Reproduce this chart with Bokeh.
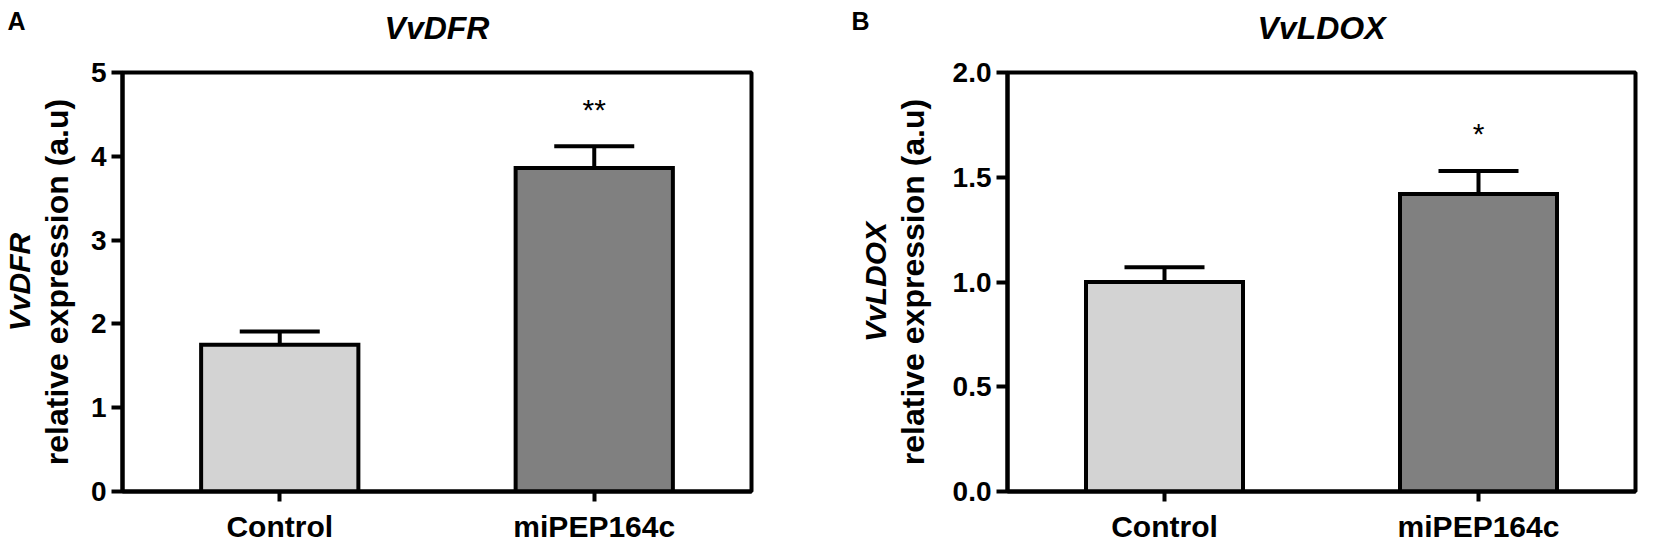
from bokeh.plotting import figure
from bokeh.models import (FactorRange, Range1d, FixedTicker, Label, Whisker, Title,
                          ColumnDataSource, TeeHead, NumeralTickFormatter, BasicTickFormatter)
from bokeh.layouts import row
from bokeh.core.properties import value
from bokeh.embed import file_html
from bokeh.resources import INLINE

# ---------------- data ----------------
categories = ["Control", "miPEP164c"]
bar_colors = ["#d3d3d3", "#808080"]

dfr_mean = [1.75, 3.86]
dfr_upper = [1.91, 4.12]
dfr_sig = ["", "**"]
dfr_sig_y = [1.91, 4.56]
dfr_ticks = [0, 1, 2, 3, 4, 5]

ldox_mean = [1.00, 1.42]
ldox_upper = [1.07, 1.53]
ldox_sig = ["", "*"]
ldox_sig_y = [1.07, 1.71]
ldox_ticks = [0.0, 0.5, 1.0, 1.5, 2.0]

FONT = "Liberation Sans"
H = 545
TOP = 72
BOTTOM = 52


def make_panel(letter, gene, means, uppers, sig, sig_y, ticks, ymax, fmt,
               width, border_left, border_right, ylab_standoff, gene_font,
               gene_standoff, letter_x):
    # chart title (the plot title is placed outermost in the top panel)
    main_title = Title(text=gene, align="center", vertical_align="bottom",
                       standoff=0, text_font=FONT, text_font_size="32px",
                       text_font_style="bold italic", text_color="black")
    p = figure(x_range=FactorRange(*categories, range_padding=0),
               y_range=Range1d(0, ymax), title=main_title,
               width=width, height=H,
               min_border_left=border_left, min_border_right=border_right,
               min_border_top=TOP, min_border_bottom=BOTTOM,
               output_backend="svg", toolbar_location=None,
               background_fill_color="white", border_fill_color="white")
    # blank spacer between the frame and the title
    p.add_layout(Title(text=" ", text_font_size="16px", standoff=8), "above")

    src = ColumnDataSource(dict(cat=categories, mean=means, upper=uppers,
                                color=bar_colors, sig=sig, sig_y=sig_y))
    p.vbar(x="cat", top="mean", width=0.5, source=src, fill_color="color",
           line_color="black", line_width=4, line_join="miter")
    wh = Whisker(base="cat", lower="mean", upper="upper", source=src,
                 line_color="black", line_width=4,
                 upper_head=TeeHead(size=80, line_color="black", line_width=4),
                 lower_head=None, level="glyph")
    p.add_layout(wh)
    p.text(x="cat", y="sig_y", text="sig", source=src, text_align="center",
           text_baseline="alphabetic", text_font=value(FONT),
           text_font_size="30px", text_color="black")

    p.grid.visible = False
    p.outline_line_color = "black"
    p.outline_line_width = 4
    p.outline_line_alpha = 1

    for ax in (p.xaxis[0], p.yaxis[0]):
        ax.axis_line_width = 4
        ax.axis_line_color = "black"
        ax.major_tick_line_width = 4
        ax.major_tick_line_color = "black"
        ax.major_tick_in = 0
        ax.minor_tick_line_color = None
        ax.major_label_text_font = FONT
        ax.major_label_text_font_style = "bold"
        ax.major_label_text_color = "black"

    p.xaxis.major_tick_out = 10
    p.xaxis.major_label_standoff = 8
    p.xaxis.major_label_text_font_size = "30px"

    p.yaxis.ticker = FixedTicker(ticks=ticks)
    p.yaxis.formatter = fmt
    p.yaxis.major_tick_out = 11
    p.yaxis.major_label_standoff = 5
    p.yaxis.major_label_text_font_size = "28px"
    p.yaxis.axis_label = "relative expression (a.u)"
    p.yaxis.axis_label_text_font = FONT
    p.yaxis.axis_label_text_font_style = "bold"
    p.yaxis.axis_label_text_font_size = "32px"
    p.yaxis.axis_label_text_color = "black"
    p.yaxis.axis_label_standoff = ylab_standoff

    # gene name line of the y label (italic), left of the axis label
    p.add_layout(Title(text=gene, align="center", vertical_align="bottom",
                       standoff=gene_standoff, text_font=FONT,
                       text_font_size=gene_font, text_font_style="bold italic",
                       text_color="black"), "left")
    # panel letter
    fh = H - TOP - BOTTOM
    p.add_layout(Label(x=letter_x, y=fh - 22 + TOP, x_units="screen", y_units="screen",
                       text=letter, text_font=FONT, text_font_size="25px",
                       text_font_style="bold", text_align="center",
                       text_baseline="middle", text_color="black"), "right")
    return p


p1 = make_panel("A", "VvDFR", dfr_mean, dfr_upper, dfr_sig, dfr_sig_y, dfr_ticks, 5,
                BasicTickFormatter(), 800, 119, 49, 13, "30px", 0, 16 - 751)
p2 = make_panel("B", "VvLDOX", ldox_mean, ldox_upper, ldox_sig, ldox_sig_y, ldox_ticks, 2,
                NumeralTickFormatter(format="0.0"), 853, 207, 8, 19, "30px", 0, 870 - 1645)

layout = row(p1, p2)
open("out.html", "w").write(file_html(layout, INLINE))
